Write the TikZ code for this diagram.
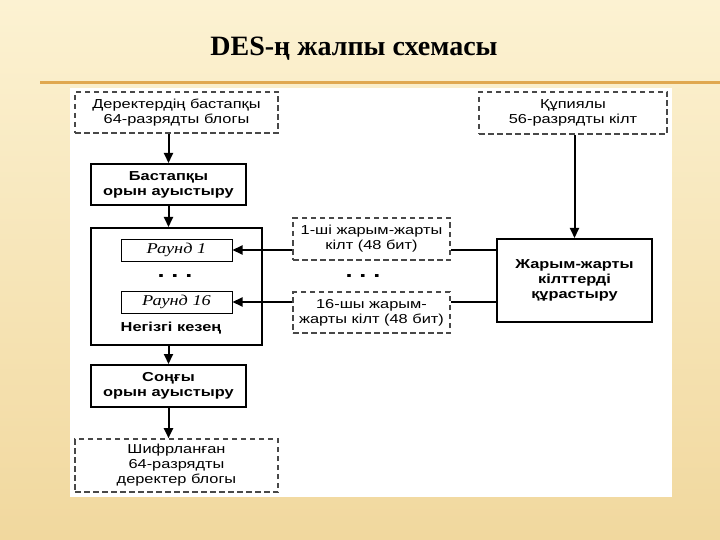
\documentclass[tikz,border=0pt]{standalone}
\usepackage{fontspec}
\setmainfont{Liberation Serif}
\newfontfamily\dsans[FakeStretch=1.26]{Liberation Sans}
\newfontfamily\dserif[FakeStretch=1.22]{Liberation Serif}
\usetikzlibrary{arrows.meta}
\definecolor{bgtop}{HTML}{FCF2D2}
\definecolor{bgbot}{HTML}{F1D89E}
\definecolor{rulec}{HTML}{E0A850}
\definecolor{dashc}{HTML}{484848}
\tikzset{
  dbox/.style={draw=dashc, line width=1.6pt, dash pattern=on 5.5pt off 3.5pt, font=\dsans\fontsize{13}{15}\selectfont, align=center, inner sep=0pt},
  sbox/.style={draw=black, line width=2pt, font=\dsans\bfseries\fontsize{13}{15}\selectfont, align=center, inner sep=0pt},
  rbox/.style={draw=black, line width=1pt, font=\dserif\itshape\fontsize{15}{17}\selectfont, inner sep=0pt},
  dotsn/.style={font=\dsans\bfseries\fontsize{20}{20}\selectfont, inner sep=0pt},
  conn/.style={line width=2pt},
  arr/.style={conn, -{Triangle[length=10pt,width=9pt]}}
}
\begin{document}
\begin{tikzpicture}[x=1pt,y=-1pt]
\useasboundingbox (0,0) rectangle (720,540);
\shade[top color=bgtop, bottom color=bgbot] (0,0) rectangle (720,540);
\node (title) at (354,49) {\bfseries\fontsize{28}{30}\selectfont DES-ң жалпы схемасы};
\fill[rulec] (40,81.5) rectangle (720,84.5);
\fill[white] (70,88) rectangle (672,497);

\node[dbox, minimum width=203pt, minimum height=41pt] (src) at (176.5,112.5) {Деректердің бастапқы\\64-разрядты блогы};
\node[sbox, minimum width=155pt, minimum height=41pt] (ip) at (168.5,184.5) {Бастапқы\\орын ауыстыру};
\node[sbox, minimum width=171pt, minimum height=117pt] (main) at (176.5,286.5) {};
\node[rbox, minimum width=111pt, minimum height=22pt] (r1) at (176.5,250) {Раунд 1};
\node[dotsn] (d1) at (175,276) {.\hspace{7pt}.\hspace{7pt}.};
\node[rbox, minimum width=111pt, minimum height=22pt] (r16) at (176.5,302) {Раунд 16};
\node[font=\dsans\bfseries\fontsize{13}{15}\selectfont, inner sep=0pt] (stage) at (171,328) {Негізгі кезең};
\node[sbox, minimum width=155pt, minimum height=42pt] (fp) at (168.5,386) {Соңғы\\орын ауыстыру};
\node[dbox, minimum width=203pt, minimum height=53pt] (out) at (176.5,465.5) {Шифрланған\\64-разрядты\\деректер блогы};

\node[dbox, minimum width=157pt, minimum height=42pt] (k1) at (371.5,239) {1-ші жарым-жарты\\кілт (48 бит)};
\node[dotsn] (d2) at (363,276) {.\hspace{7pt}.\hspace{7pt}.};
\node[dbox, minimum width=157pt, minimum height=41pt] (k16) at (371.5,312.5) {16-шы жарым-\\жарты кілт (48 бит)};

\node[dbox, minimum width=188pt, minimum height=42pt] (key) at (573,113) {Құпиялы\\56-разрядты кілт};
\node[sbox, minimum width=155pt, minimum height=83pt] (ks) at (574.5,280.5) {Жарым-жарты\\кілттерді\\құрастыру};

\draw[arr] (src.south -| ip) -- (ip.north);
\draw[arr] (ip.south) -- (ip.south |- main.north);
\draw[arr] (main.south -| fp) -- (fp.north);
\draw[arr] (fp.south) -- (fp.south |- out.north);
\draw[arr] (key.south -| ks) -- (ks.north);
\draw[conn] (ks.west |- r1) -- (k1.east |- r1);
\draw[arr] (k1.west |- r1) -- (r1.east);
\draw[conn] (ks.west |- r16) -- (k16.east |- r16);
\draw[arr] (k16.west |- r16) -- (r16.east);
\end{tikzpicture}
\end{document}
